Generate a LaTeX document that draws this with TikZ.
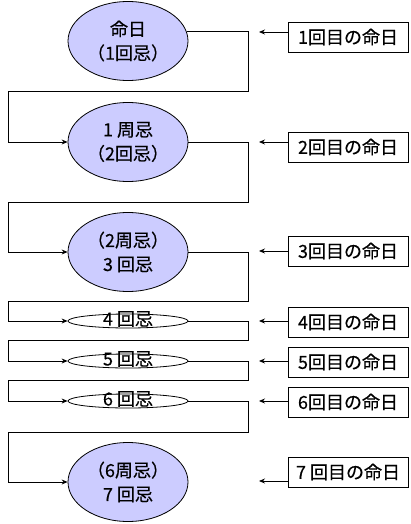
\documentclass[tikz,border=0pt]{standalone}
\usepackage{fontspec}
\setmainfont{Noto Sans CJK JP}[FakeBold=0.4]
\usetikzlibrary{arrows.meta,shapes.geometric}
\definecolor{kaiki}{RGB}{204,204,255}
\begin{document}
\begin{tikzpicture}[x=1pt,y=-1pt,line width=0.8pt,
    >={Stealth[length=6pt,width=5pt]},
    bigkai/.style={draw,ellipse,fill=kaiki,inner sep=0pt,minimum width=120pt,
      minimum height=79pt,align=center,font=\fontsize{18}{24}\selectfont},
    smallkai/.style={draw,ellipse,inner sep=0pt,minimum width=120pt,minimum height=14pt},
    kaitext/.style={font=\fontsize{18}{20}\selectfont},
    meinichi/.style={draw,rectangle,inner sep=0pt,minimum width=120pt,minimum height=30pt,
      font=\fontsize{18}{20}\selectfont}]
  \useasboundingbox (0,0) rectangle (411,524);
  % ceremonies
  \node[bigkai] (e1) at (128,41) {命日\\（1回忌）};
  \node[bigkai] (e2) at (128,142) {1 周忌\\（2回忌）};
  \node[bigkai] (e3) at (128,252) {（2周忌）\\3 回忌};
  \node[smallkai,label={[kaitext,yshift=2pt]center:4 回忌}] (e4) at (128,321) {};
  \node[smallkai,label={[kaitext,yshift=2pt]center:5 回忌}] (e5) at (128,361) {};
  \node[smallkai,label={[kaitext,yshift=2pt]center:6 回忌}] (e6) at (128,401) {};
  \node[bigkai] (e7) at (128,482) {（6周忌）\\7 回忌};
  % anniversaries
  \node[meinichi] (b1) at (348,37) {1回目の命日};
  \node[meinichi] (b2) at (348,147) {2回目の命日};
  \node[meinichi] (b3) at (348,251) {3回目の命日};
  \node[meinichi] (b4) at (348,322) {4回目の命日};
  \node[meinichi] (b5) at (348,362) {5回目の命日};
  \node[meinichi] (b6) at (348,402) {6回目の命日};
  \node[meinichi] (b7) at (348,472) {7 回目の命日};
  \coordinate (t1) at (259,32);
  \coordinate (t2) at (259,142);
  \coordinate (t3) at (259,251);
  \coordinate (t4) at (259,321);
  \coordinate (t5) at (259,361);
  \coordinate (t6) at (259,401);
  \coordinate (t7) at (259,481);
  \draw[->] (b1.west |- t1) -- (t1);
  \draw[->] (b2.west |- t2) -- (t2);
  \draw[->] (b3.west) -- (t3);
  \draw[->] (b4.west |- t4) -- (t4);
  \draw[->] (b5.west |- t5) -- (t5);
  \draw[->] (b6.west |- t6) -- (t6);
  \draw[->] (b7.west |- t7) -- (t7);
  % turns
  \coordinate (r1) at (248,91);  \coordinate (l1) at (8,91);
  \coordinate (r2) at (248,202); \coordinate (l2) at (8,202);
  \coordinate (r3) at (248,301); \coordinate (l3) at (8,301);
  \coordinate (r4) at (248,340); \coordinate (l4) at (8,340);
  \coordinate (r5) at (248,380); \coordinate (l5) at (8,380);
  \coordinate (r6) at (248,432); \coordinate (l6) at (8,432);
  \draw[->] (e1.9) -| (r1) -- (l1) |- (e2.west);
  \draw[->] (e2.east) -| (r2) -- (l2) |- (e3.west);
  \draw[->] (e3.east) -| (r3) -- (l3) |- (e4.west);
  \draw[->] (e4.east) -| (r4) -- (l4) |- (e5.west);
  \draw[->] (e5.east) -| (r5) -- (l5) |- (e6.west);
  \draw[->] (e6.east) -| (r6) -- (l6) |- (e7.west);
\end{tikzpicture}
\end{document}
